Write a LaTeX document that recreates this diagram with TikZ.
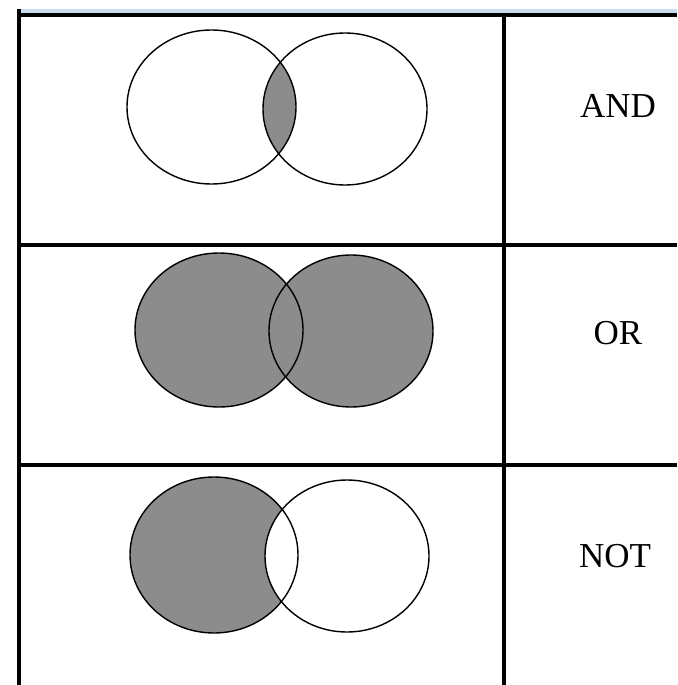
\documentclass[tikz,border=0pt]{standalone}
\usepackage{fontspec}
\setmainfont{Liberation Serif}
\definecolor{venngray}{RGB}{140,140,140}
\definecolor{bandblue}{RGB}{200,220,240}
\tikzset{
  gridline/.style={line width=4pt, black},
  vennline/.style={line width=1.4pt, black},
  opname/.style={font=\fontsize{35}{40}\selectfont, inner sep=0pt, anchor=center}
}
\begin{document}
\begin{tikzpicture}[x=1pt,y=-1pt]
  \fill[white] (0,0) rectangle (677,685);
  \useasboundingbox (0,0) rectangle (677,685);
  % top band
  \fill[bandblue] (19,9) rectangle (677,13);
  % table grid
  \draw[gridline] (19,9) -- (19,685);
  \draw[gridline] (504,15) -- (504,685);
  \draw[gridline] (17,15) -- (677,15);
  \draw[gridline] (17,245) -- (677,245);
  \draw[gridline] (17,465) -- (677,465);

  % AND row
  \begin{scope}
    \clip (211.5,107) ellipse [x radius=84.5pt, y radius=77pt];
    \fill[venngray] (345,109) ellipse [x radius=82pt, y radius=76pt];
  \end{scope}
  \draw[vennline] (211.5,107) ellipse [x radius=84.5pt, y radius=77pt];
  \draw[vennline] (345,109) ellipse [x radius=82pt, y radius=76pt];
  \node[opname] (and) at (618,106) {AND};

  % OR row
  \fill[venngray] (219,330) ellipse [x radius=84pt, y radius=77pt];
  \fill[venngray] (351,331) ellipse [x radius=82pt, y radius=76pt];
  \draw[vennline] (219,330) ellipse [x radius=84pt, y radius=77pt];
  \draw[vennline] (351,331) ellipse [x radius=82pt, y radius=76pt];
  \node[opname] (or) at (618,333) {OR};

  % NOT row
  \fill[venngray] (214,555) ellipse [x radius=84pt, y radius=78pt];
  \fill[white] (347,556) ellipse [x radius=82pt, y radius=76pt];
  \draw[vennline] (214,555) ellipse [x radius=84pt, y radius=78pt];
  \draw[vennline] (347,556) ellipse [x radius=82pt, y radius=76pt];
  \node[opname] (not) at (615,556) {NOT};
\end{tikzpicture}
\end{document}
